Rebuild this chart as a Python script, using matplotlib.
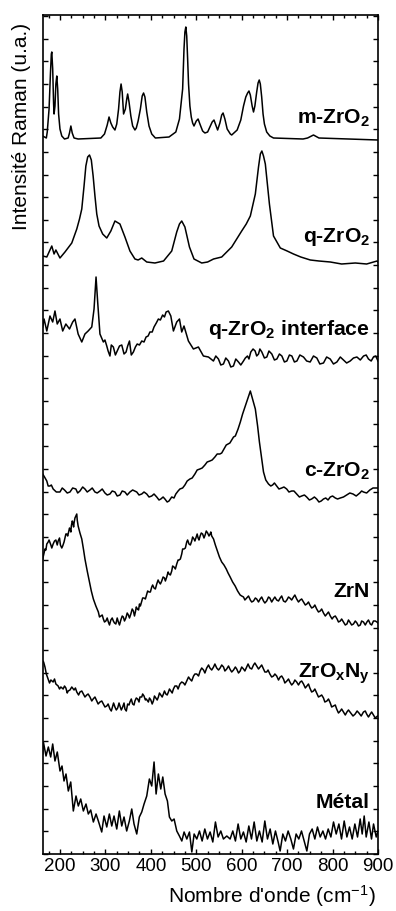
import numpy as np
import matplotlib
matplotlib.use("Agg")
import matplotlib.pyplot as plt
from matplotlib.ticker import MultipleLocator

plt.rcParams['font.family'] = ['Liberation Sans', 'DejaVu Sans']
plt.rcParams['mathtext.fontset'] = 'custom'
plt.rcParams['mathtext.rm'] = 'Liberation Sans'
plt.rcParams['mathtext.bf'] = 'Liberation Sans:bold'
plt.rcParams['mathtext.it'] = 'Liberation Sans:italic'

# ---- data: (wavenumber cm-1, intensity u.a. incl. vertical offset) ----
m_zro2 = [(162,718),(170,716),(172,722),(176,745),(179,780),(181,800),(182,802),(184,785),(186,750),(187,740),
          (189,748),(191,770),(193,778),(195,765),(197,740),(200,725),(204,718),(210,715),(218,716),(221,721),
          (224,728),(227,721),(231,716),(240,715),(290,716),(298,720),(304,729),(308,737),(312,731),(316,727),
          (321,724),(325,730),(329,745),(332,762),(334.5,770),(337,762),(340,740),(344,745),(347,755),(349,760),
          (352,752),(356,738),(360,728),(365,724),(368,726),(372,733),(377,745),(381,758),(384,761),(387,757),
          (391,742),(396,728),(402,720),(410,716),(440,717),(455,722),(463,735),(470,765),(473,805),(475,822),
          (477,827),(479,818),(481,795),(483,770),(486,748),(489,737),(492,731),(495,728),(500,733),(504,735),
          (508,730),(514,723),(519,721),(525,722),(530,727),(535,732),(539,734),(543,729),(547,724),(552,731),
          (556,739),(559,741),(563,735),(568,725),(575,720),(578,719),(590,724),(598,734),(604,748),(609,757),
          (613,761),(616,763),(619,759),(623,748),(626,742),(629,748),(633,762),(636,771),(638.6,774),(641,770),
          (644,757),(647,740),(650,730),(655,722),(662,718),(670,716),(735,715),(745,716),(758,719),(770,716),
          (900,714)]

q_zro2 = [(162,598),(171,597),(182,608),(187,600),(191,604),(200,596),(211,602),(226,611),(237,625),(243,635),
          (248,645),(253,668),(257,688),(261,697),(265,699),(269,694),(273,678),(277,658),(281,640),(286,628),
          (294,620),(303,616),(312,623),(321,633),(332,630),(343,617),(354,603),(365,595),(372,594),(380,596),
          (391,592),(409,591),(428,593),(446,603),(457,622),(463,630),(468,633),(475,627),(485,607),(495,595),
          (512,591),(525,592),(538,595),(556,597),(578,607),(600,623),(610,630),(619,638),(630,660),(637,687),
          (641,700),(644.4,703),(648,698),(652,690),(661,650),(670,618),(685,606),(700,603),(714,600),(730,597),
          (751,594),(770,593),(795,592),(820,590),(850,591),(875,590),(898,593),(900,592)]

q_interface = [(162,527),(165,535),(171,523),(178,538),(184,532),(189,543),(194,530),(200,535),(206,523),(213,530),
               (221,525),(228,532),(233,535),(240,520),(248,512),(255,520),(262,523),(270,527),(275,545),(279.4,577),
               (283,552),(288,520),(295.5,512),(303,508),(310,498),(317.5,507),(326,503),(336,509),(345.5,502),(353,513),
               (361.6,502),(370,510),(380,513),(389.5,517),(398,522),(407,527),(416.6,535),(426,539),(433.6,542),(438.6,543),
               (444,538),(449.7,523),(457,532),(463,535),(468,522),(473,528),(482.7,513),(493.7,505),(504.7,507),(515.7,498),
               (526.8,497),(537.8,493),(548.8,495),(559.8,490),(570.8,493),(581.8,488),(592.9,492),(603.9,493),(612.7,498),
               (620,502),(629.6,503),(637,500),(644.3,502),(655.3,497),(666.3,500),(677.4,495),(688.4,498),(699.4,493),
               (710.4,498),(721.5,493),(736,497),(750.7,492),(765.4,496),(780,491),(794.8,495),(809.5,492),(824,494),
               (838.8,493),(853.6,497),(868.2,498),(879,495),(890,497),(900,493),
               (543,498),(554,489),(565,496),(576,487),(587,495),(598,489),(608,496),(616,495),(625,505),(633,498),
               (640,505),(650,496),(660,503),(672,494),(683,500),(694,492),(705,499),(716,492),(728,499),(743,493),
               (758,498),(772,490),(787,497),(802,490),(817,497),(831,491),(846,496),(861,494),(874,499),(885,493),
               (895,498),(299,514),(306,503),(313,509),(322,499),(331,508),(341,500),(349,508),(357,499),(366,507),
               (375,509),(385,512),(394,518),(403,522),(412,531),(421,534),(430,537)]

c_zro2 = [(162,380),(171,373),(178,368),(185,365),(200,362),(210,364),(222,362),(235,365),(244,363),(255,365),
          (266,364),(277,362),(288,363),(299,361),(310,360),(321,362),(332,359),(343,362),(354,362),(369,362),
          (380,360),(391,360),(402,358),(413,357),(422,355),(431,355),(440,353),(446,357),(455,360),(464,365),
          (475,369),(486,375),(497,380),(508,385),(519,389),(530,393),(541,397),(552,400),(561,405),(570,410),
          (578,414),(586,418),(592,425),(597,432),(602,440),(608,448),(613,455),(619,463),(624,455),(630,445),
          (635,428),(639,412),(644,395),(648,382),(653,374),(659,370),(668,369),(677,368),(688,366),(699,365),
          (710,363),(721,360),(732,358),(743,357),(754,355),(765,355),(775,353),(785,356),(795,357),(806,356),
          (817,356),(831,359),(845,360),(860,361),(868,362),(882,364),(898,366),(900,366),
          (166,377),(174,368),(181,369),(192,362),(205,366),(216,361),(228,366),(239,361),(250,367),(260,362),
          (271,366),(282,361),(293,365),(304,359),(315,363),(326,358),(337,363),(348,359),(360,364),(374,359),
          (385,362),(396,357),(407,360),(418,354),(427,357),(436,352),(451,356),(460,363),(470,366),(480,373),
          (491,376),(502,384),(513,386),(524,392),(535,394),(546,400),(556,401),(566,409),(574,411),(582,417),
          (664,368),(672,371),(682,365),(693,367),(704,362),(715,363),(727,357),(738,359),(749,354),(760,357),
          (770,352),(780,355),(790,354),(800,358),(811,355),(824,357),(838,361),(852,358),(864,363),(875,361),
          (889,366)]

zrn = [(162,295),(167,305),(171,310),(174,312),(180,309),(185,310),(191,314),(196,313),(201,309),(206,308),
       (211,316),(215,320),(219,322),(222,325),(225,328),(228,332),(231,331),(235,338),(238,334),(240,328),
       (244,321),(248,315),(252,304),(255,295),(260,283),(265,272),(269,263),(273.5,255),(279,248),(284.5,242),
       (290,238),(295.5,235),(301,233),(306.5,232),(312,234),(317.5,233),(323,230),(328.5,232),(334,234),(339.5,237),
       (345,236),(350.6,239),(356,240),(361.6,243),(366,242),(370.4,245),(375,250),(380,253),(385,256),(391,260),
       (396,262),(402,267),(407,266),(413,270),(418,272),(424,273),(430,276),(435,277),(440,280),(446,283),
       (451,287),(457,290),(462,294),(468,300),(473,305),(479,312),(484,310),(490,313),(495,315),(500,317),
       (504,316),(508.5,318),(514,320),(519.5,319),(525,321),(530.5,320),(534,318),(538,315),(542,309),(546.6,303),
       (551,297),(556,292),(561,289),(566,285),(570,281),(574.6,277),(580,272),(585.6,268),(591,263),(596.6,259),
       (604,257),(611,256),(619,254),(626,253),(633,255),(640.6,255),(648,253),(655,253),(662,256),(670,255),
       (677,254),(684.7,256),(692,253),(699.4,254),(706,256),(714,257),(721,255),(728.7,254),(736,252),(743.4,250),
       (750,249),(758,247),(765,245),(772.8,243),(780,241),(787.5,240),(795,238),(802,237),(810,235),(817,233),
       (824,232),(831.6,230),(838,232),(846,230),(853.6,231),(861,229),(868,232),(875.6,232),(883,230),(890,233),
       (897.6,232),(900,231),
       (600,258),(607,254),(615,258),(622,252),(630,256),(637,252),(644,257),(651,251),(659,257),(666,252),
       (673,257),(681,253),(688,258),(696,252),(703,257),(710,254),(717,259),(725,252),(732,255),(740,249),
       (747,252),(754,246),(761,249),(769,242),(776,245),(784,238),(791,242),(799,235),(806,238),(813,232),
       (820,235),(828,229),(835,234),(842,229),(850,233),(857,228),(864,233),(872,229),(879,234),(886,229),
       (894,233),(377,248),(382,256),(388,255),(393,263),(399,262),(404,269),(410,265),(416,274),(421,270),
       (427,277),(432,273),(438,282),(443,279),(448,288),(454,285),(460,294),(465,295),(470,305),(476,306),
       (481,314),(487,309),(492,317),(497,313),(502,320),(506,314),(511,321),(517,316),(522,323),(528,318),
       (532,322),(169,304),(176,314),(182,306),(188,313),(194,309),(199,316),(204,306),(209,312),(213,320),
       (217,318),(221,326),(224,322),(227,333),(230,327),(233,336),(237,340),(287,237),(293,239),(298,232),
       (304,236),(309,229),(315,236),(320,231),(326,236),(331,229),(337,238),(342,233),(348,241),(353,236),
       (359,245),(364,238),(368,247),(373,244)]

zroxny = [(162,193),(164,192),(167,187),(170,180),(174,175),(180,174),(185,172),(191,170),(196,168),(202,167),
          (207,165),(213,166),(218,163),(222,164),(226,167),(231,164),(237,162),(244,162),(251.5,160),(259,159),
          (266,157),(273,155),(281,153),(288,152),(295.5,150),(303,148),(310,145),(316,148),(321,147),(327,146),
          (332,148),(338,147),(343,145),(349,150),(354,152),(360,150),(365,153),(371,155),(376,157),(380,157),
          (385,158),(390,155),(394.6,152),(400,154),(405.6,153),(411,156),(416.6,157),(422,159),(427.7,160),(433,160),
          (438.7,162),(444,163),(449.7,165),(457,168),(464,170),(472,171),(479,173),(486,175),(494,178),(501,180),
          (508.5,183),(516,184),(523,186),(530,186),(538,187),(545,186),(552.5,186),(560,187),(567,185),(574,185),
          (582,184),(589,185),(596.6,183),(604,185),(611,187),(618,186),(626,189),(633,188),(640.6,187),(648,185),
          (655,182),(662,180),(670,178),(677,178),(684.7,177),(692,175),(699.4,173),(706,172),(714,171),(721,172),
          (728.7,172),(736,170),(743.4,168),(750,166),(758,163),(765,161),(772.8,158),(780,156),(787.5,153),(795,151),
          (802,148),(809,145),(817,143),(824,142),(831.6,142),(840,141),(849.8,140),(858,141),(868,142),(875,140),
          (883,140),(890,139),(899,138),(900,138),
          (177,171),(188,175),(199,165),(210,168),(216,161),(234,166),(241,159),(248,163),(255,157),(262,160),
          (270,153),(277,157),(284,150),(292,153),(299,147),(306,150),(313,143),(318,151),(324,144),(330,151),
          (335,144),(341,151),(346,143),(352,149),(357,155),(363,149),(368,156),(374,152),(382,160),(388,154),
          (397,156),(403,150),(408,158),(414,154),(419,161),(425,157),(430,163),(436,159),(441,165),(447,161),
          (453,168),(460,165),(468,172),(475,169),(483,177),(490,173),(497,180),(505,178),(512,186),(519,181),
          (527,189),(534,184),(541,190),(549,184),(556,189),(563,183),(571,188),(578,182),(586,187),(593,181),
          (600,187),(607,183),(614,190),(622,185),(629,191),(637,185),(644,189),(651,182),(658,184),(666,177),
          (673,180),(681,174),(688,178),(695,171),(703,175),(710,169),(717,174),(725,169),(732,173),(740,166),
          (747,170),(754,162),(761,165),(769,157),(776,159),(783,152),(791,155),(798,147),(806,149),(813,141),
          (820,145),(828,139),(835,144),(845,138),(854,143),(863,138),(872,143),(879,137),(886,142),(894,136)]

metal = [(162,100),(163.5,112),(169.3,98),(174.4,107),(179.6,97),(184,110),(189,93),(194.1,102),(200.1,83),(204.5,88),
         (208.9,73),(213.3,80),(218.4,63),(223.7,72),(229.4,43),(235.3,58),(240.4,48),(245.7,55),(251.5,43),(257.3,50),
         (262.4,40),(267.7,44),(273.5,32),(279.4,40),(284.5,33),(291.9,22),(297,38),(303,27),(308.7,40),(314,28),
         (319,38),(325,25),(330.7,43),(336,28),(341,37),(346.9,23),(352.7,33),(358,45),(363,30),(369,20),
         (374.7,37),(380,42),(385.1,50),(391,58),(396.8,75),(402,68),(407.1,92),(411.6,60),(416.6,80),(421.9,65),
         (426.3,77),(431.4,60),(436.5,53),(440.9,37),(446.1,33),(451.2,35),(457.1,23),(462.9,18),(468.2,13),(473.2,22),
         (479.2,15),(485,22),(490.2,2),(495.3,20),(501.2,15),(507,23),(512.9,13),(518.8,25),(524.6,15),(530.5,22),
         (536.4,12),(542.2,32),(548.1,17),(554,23),(559.8,15),(567.2,18),(574.5,15),(580.4,23),(586.2,13),(592.1,30),
         (598,15),(603.8,22),(609.8,12),(615.7,28),(621.5,15),(627.4,32),(633.3,13),(639,23),(645,12),(650.9,33),
         (656.7,15),(662.6,25),(668.5,10),(674.3,23),(680.2,12),(684.6,3),(690.5,20),(696.3,13),(702.2,23),(708.1,15),
         (713.9,5),(719.8,20),(725.7,15),(731.6,23),(737.5,13),(743.4,3),(749.2,20),(755.1,25),(761,15),(766.8,27),
         (772.8,17),(778.7,23),(784.5,15),(790.4,25),(796.3,17),(802.1,32),(808,20),(813.9,30),(819.7,15),(825.6,33),
         (831.5,17),(837.3,27),(843.2,15),(849.1,30),(854.9,17),(860.8,35),(865.2,20),(869.6,38),(874,17),(880,32),
         (885.7,15),(890.2,30),(896.1,17),(900,23)]

labels = [r'm-ZrO$_\mathbf{2}$', r'q-ZrO$_\mathbf{2}$', r'q-ZrO$_\mathbf{2}$ interface', r'c-ZrO$_\mathbf{2}$',
          'ZrN', r'ZrO$_\mathbf{x}$N$_\mathbf{y}$', 'Métal']
label_y = [731, 613, 520, 378, 258, 177, 47]
xticks = [200, 300, 400, 500, 600, 700, 800, 900]

spectra = [m_zro2, q_zro2, q_interface, c_zro2, zrn, zroxny, metal]

fig = plt.figure(figsize=(3.96, 9.12), dpi=100)
ax = fig.add_axes([42.7/396, 1-855/912, (378-42.7)/396, (855-16)/912])

for s in spectra:
    arr = np.array(sorted(s), dtype=float)
    ax.plot(arr[:, 0], arr[:, 1], color='black', lw=1.1, solid_joinstyle='round')

for lab, yy in zip(labels, label_y):
    ax.text(882, yy, lab, ha='right', va='baseline', fontsize=15.2, fontweight='bold')

ax.set_xlim(162, 900)
ax.set_ylim(0, 839)
ax.set_xticks(xticks)
ax.xaxis.set_minor_locator(MultipleLocator(25))
ax.yaxis.set_major_locator(MultipleLocator(22.65))
ax.set_yticklabels([])
ax.tick_params(axis='both', which='both', direction='in', top=True, right=True, width=1.0)
ax.tick_params(axis='both', which='major', length=3.5, labelsize=13.5, pad=2)
ax.tick_params(axis='both', which='minor', length=2)
ax.tick_params(axis='y', which='both', labelleft=False)
for sp in ax.spines.values():
    sp.set_linewidth(1.2)

fig.text(22/396, 1-126/912, 'Intensité Raman (u.a.)', rotation=90, ha='center', va='center', fontsize=15)
fig.text(376/396, 1-903/912, "Nombre d'onde (cm$^{-1}$)", ha='right', va='baseline', fontsize=15)

fig.savefig('out.png', dpi=100)
